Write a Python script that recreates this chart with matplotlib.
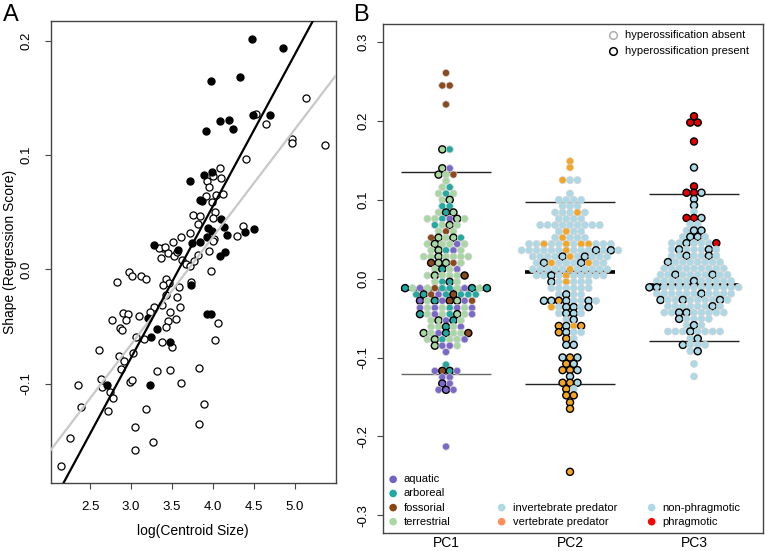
import numpy as np
import matplotlib.pyplot as plt

plt.rcParams['font.family'] = ['Liberation Sans', 'DejaVu Sans']

# ---- panel A data: log(centroid size) vs regression score
open_x = [5.138, 4.524, 4.654, 4.972, 4.967, 5.366, 4.407, 4.093, 4.102, 4.004,
          3.931, 3.955, 3.915, 4.037, 4.126, 3.988, 4.024, 3.760, 3.846, 4.004,
          3.817, 3.720, 4.366, 4.289, 4.016, 3.996, 3.606, 3.512, 3.390, 3.346,
          3.411, 3.362, 3.451, 3.524, 3.557, 3.618, 3.667, 3.724, 3.764, 3.955,
          3.813, 3.972, 2.976, 3.016, 3.122, 3.179, 2.825, 3.423, 3.467, 3.585,
          3.728, 3.390, 3.557, 3.431, 3.593, 3.382, 3.276, 3.228, 3.476, 2.907,
          2.967, 3.098, 2.764, 2.935, 3.447, 3.549, 3.423, 2.866, 2.886, 4.065,
          3.057, 3.159, 3.382, 3.504, 4.024, 2.614, 2.854, 2.919, 2.874, 3.024,
          3.313, 3.476, 3.829, 2.634, 2.642, 2.992, 3.016, 3.610, 2.350, 2.744,
          2.785, 2.390, 2.724, 3.183, 3.886, 3.045, 3.825, 3.272, 3.045, 2.252,
          2.142]
open_y = [0.150, 0.136, 0.127, 0.114, 0.111, 0.109, 0.097, 0.089, 0.080, 0.082,
          0.077, 0.072, 0.064, 0.065, 0.066, 0.059, 0.050, 0.048, 0.047, 0.045,
          0.040, 0.032, 0.038, 0.029, 0.027, 0.025, 0.028, 0.024, 0.019, 0.019,
          0.020, 0.010, 0.014, 0.012, 0.015, 0.008, 0.005, 0.003, 0.007, 0.016,
          0.013, -0.001, -0.002, -0.006, -0.006, -0.008, -0.011, -0.008, -0.012, -0.015,
          -0.011, -0.014, -0.024, -0.022, -0.033, -0.031, -0.033, -0.037, -0.037, -0.038,
          -0.039, -0.041, -0.044, -0.044, -0.045, -0.043, -0.050, -0.051, -0.053, -0.047,
          -0.059, -0.061, -0.063, -0.068, -0.062, -0.070, -0.076, -0.080, -0.087, -0.073,
          -0.089, -0.088, -0.086, -0.096, -0.103, -0.098, -0.097, -0.099, -0.101, -0.107,
          -0.112, -0.120, -0.124, -0.122, -0.118, -0.138, -0.135, -0.151, -0.158, -0.147,
          -0.172]
filled_x = [4.472, 4.858, 4.329, 3.972, 4.093, 4.203, 4.244, 3.919, 4.695, 4.492,
            3.715, 3.886, 3.988, 3.841, 3.866, 4.098, 3.939, 3.988, 4.138, 4.167,
            3.931, 4.508, 4.394, 3.748, 3.841, 3.280, 3.577, 4.085, 4.154, 3.732,
            3.923, 3.972, 3.211, 3.313, 3.240, 3.476, 2.703, 3.228]
filled_y = [0.202, 0.194, 0.168, 0.165, 0.130, 0.131, 0.123, 0.121, 0.135, 0.135,
            0.077, 0.083, 0.085, 0.061, 0.060, 0.044, 0.036, 0.034, 0.037, 0.030,
            0.028, 0.035, 0.033, 0.023, 0.024, 0.021, 0.017, 0.012, 0.015, -0.014,
            -0.039, -0.039, -0.042, -0.052, -0.059, -0.063, -0.101, -0.101]
# regression lines (intercept, slope)
fit_present = (-0.4755, 0.1327)
fit_absent = (-0.348, 0.0941)

# ---- panel B data: rows of the beeswarm (value, groups left to right)
# lower case = hyperossification absent, upper case = present
pc_labels = ['PC1', 'PC2', 'PC3']
pc1_rows = [(0.261, 'f'), (0.245, 'ff'), (0.221, 'f'), (0.164, 'Tr'), (0.140, 'Ta'),
            (0.132, 'Ttf'), (0.124, 't'), (0.116, 'tr'), (0.108, 'trt'), (0.100, 'tT'),
            (0.092, 'rr'), (0.084, 'tRT'), (0.076, 'ttraTt'), (0.068, 'rtTt'),
            (0.060, 'tft'), (0.052, 'fTtTr'), (0.044, 'tTttat'), (0.036, 'tTrat'),
            (0.028, 'ttTtttt'), (0.020, 'FTTft'), (0.012, 'tRta'), (0.004, 'tTtttF'),
            (-0.004, 'trRt'), (-0.012, 'RtatfrrtaRtR'), (-0.020, 'rRfarFrrr'),
            (-0.028, 'AtRaFTaf'), (-0.037, 'atatrata'), (-0.045, 'RtatrTta'),
            (-0.053, 'tTaRt'), (-0.061, 'ttRta'), (-0.069, 'TtaRttF'),
            (-0.077, 'tTrtta'), (-0.085, 'Taat'), (-0.093, 'a'), (-0.109, 'r'),
            (-0.117, 'aFRa'), (-0.125, 'aa'), (-0.133, 'Aa'), (-0.141, 'aAa'),
            (-0.213, 'a')]
pc2_rows = [(0.149, 'v'), (0.141, 'v'), (0.125, 'vii'), (0.108, 'i'), (0.100, 'iiii'),
            (0.092, 'iii'), (0.084, 'iiivi'), (0.076, 'iiii'), (0.068, 'iiiiiiiii'),
            (0.060, 'ivii'), (0.052, 'iviii'), (0.044, 'iiviivivviii'),
            (0.036, 'iiiiiiviiiIiIi'), (0.028, 'iiiiIviIiii'), (0.020, 'iIviiiIvii'),
            (0.012, 'iiiiiviiiii'), (0.004, 'iiIiviiiii'), (-0.004, 'Iiviii'),
            (-0.012, 'iiiiii'), (-0.020, 'iIii'), (-0.028, 'IIVIiiIi'),
            (-0.036, 'viIIiI'), (-0.044, 'iIIi'), (-0.052, 'iI'), (-0.060, 'VIvV'),
            (-0.068, 'VIii'), (-0.076, 'Vi'), (-0.084, 'II'), (-0.100, 'IVI'),
            (-0.108, 'VI'), (-0.116, 'VVI'), (-0.124, 'I'), (-0.132, 'VVI'),
            (-0.140, 'Vi'), (-0.148, 'VV'), (-0.157, 'V'), (-0.165, 'V'), (-0.245, 'V')]
pc3_rows = [(0.206, 'P'), (0.198, 'PP'), (0.174, 'P'), (0.141, 'N'), (0.117, 'P'),
            (0.109, 'PPN'), (0.101, 'N'), (0.093, 'N'), (0.085, 'n'), (0.077, 'PPN'),
            (0.069, 'nn'), (0.061, 'nNN'), (0.053, 'nNNn'), (0.045, 'nnNnnnP'),
            (0.037, 'nNnnnNn'), (0.029, 'nnNnnNn'), (0.021, 'Nnnnnnnn'),
            (0.013, 'nnnnnnnnn'), (0.005, 'nnNnnnnNnn'), (-0.003, 'nnnnnNnnnnn'),
            (-0.011, 'NNnnnnnnnnnnn'), (-0.019, 'nnnnnnNnnnn'), (-0.027, 'NnnNnnnnNn'),
            (-0.035, 'nnnnnnNn'), (-0.043, 'nnNNnnnnn'), (-0.051, 'Nnnnn'),
            (-0.059, 'nNn'), (-0.067, 'nnnNnnnn'), (-0.076, 'nN'), (-0.084, 'Nnnn'),
            (-0.092, 'nN'), (-0.108, 'n'), (-0.124, 'n')]
pc_upper = [0.135, 0.0976, 0.107]
pc_mid = [-0.0136, 0.0088, -0.0081]
pc_lower = [-0.121, -0.134, -0.0788]

group_colors = {'a': '#7b68c8', 'r': '#22aaa2', 'f': '#8b4a1e', 't': '#a9d7a3',
                'i': '#add8e6', 'v': '#f3a623', 'n': '#add8e6', 'p': '#e60000'}
legend_groups = [
    [('aquatic', '#7262c6'), ('arboreal', '#1faaa2'), ('fossorial', '#8b4513'),
     ('terrestrial', '#a6d89f')],
    [('invertebrate predator', '#add8e6'), ('vertebrate predator', '#ff8c5a')],
    [('non-phragmotic', '#add8e6'), ('phragmotic', '#ff0000')],
]

fig = plt.figure(figsize=(7.65, 5.51), dpi=100)
axA = fig.add_axes([0.0663, 0.1229, 0.3725, 0.8395])
axB = fig.add_axes([0.501, 0.0321, 0.496, 0.9243])

# ---------------- panel A
axA.scatter(open_x, open_y, s=26, facecolors='white', edgecolors='black', linewidths=0.9, zorder=2)
axA.scatter(filled_x, filled_y, s=26, facecolors='black', edgecolors='black', linewidths=0.9, zorder=2)
axA.axline((0, fit_absent[0]), slope=fit_absent[1], color='#c8c8c8', lw=1.6, zorder=3)
axA.axline((0, fit_present[0]), slope=fit_present[1], color='black', lw=1.6, zorder=3)
axA.set_xlim(2.02, 5.50)
axA.set_ylim(-0.187, 0.2176)
axA.set_xticks([2.5, 3.0, 3.5, 4.0, 4.5, 5.0])
axA.set_xticklabels(['2.5', '3.0', '3.5', '4.0', '4.5', '5.0'])
axA.set_yticks([-0.1, 0.0, 0.1, 0.2])
axA.set_yticklabels(['-0.1', '0.0', '0.1', '0.2'], rotation=90, va='center')
axA.tick_params(axis='x', length=4, width=0.8, color='#444444', pad=9, labelsize=9.5)
axA.tick_params(axis='y', length=4, width=0.8, color='#444444', pad=9, labelsize=9.5)
axA.set_xlabel('log(Centroid Size)', fontsize=10)
axA.set_ylabel('Shape (Regression Score)', fontsize=10)
axA.xaxis.set_label_coords(0.5, -0.088)
axA.yaxis.set_label_coords(-0.118, 0.5)

# ---------------- panel B
dx = 0.06
for k, rows in enumerate([pc1_rows, pc2_rows, pc3_rows]):
    pos = k + 1
    xs, ys, fc, ec = [], [], [], []
    for y, codes in rows:
        n = len(codes)
        for i, c in enumerate(codes):
            xs.append(pos + (i - (n - 1) / 2) * dx)
            ys.append(y)
            fc.append(group_colors[c.lower()])
            ec.append('black' if c.isupper() else '#d4d4d4')
    lw = [1.0 if e == 'black' else 0.5 for e in ec]
    axB.hlines(pc_mid[k], pos - 0.36, pos + 0.36, color='black', lw=2.6, zorder=1)
    axB.hlines(pc_upper[k], pos - 0.36, pos + 0.36, color='#222222', lw=1.0, zorder=1)
    axB.hlines(pc_lower[k], pos - 0.36, pos + 0.36,
               color='#666666' if k == 0 else '#222222', lw=1.0, zorder=1)
    axB.scatter(xs, ys, s=26, c=fc, edgecolors=ec, linewidths=lw, zorder=3)

axB.set_xlim(0.494, 3.554)
axB.set_ylim(-0.323, 0.323)
axB.set_xticks([1, 2, 3])
axB.set_xticklabels(pc_labels)
axB.set_yticks([-0.3, -0.2, -0.1, 0.0, 0.1, 0.2, 0.3])
axB.set_yticklabels(['-0.3', '-0.2', '-0.1', '0.0', '0.1', '0.2', '0.3'], rotation=90, va='center')
axB.tick_params(axis='x', length=0, pad=2, labelsize=10)
axB.tick_params(axis='y', length=4, width=0.8, color='#444444', pad=6, labelsize=9.5)

for ax in (axA, axB):
    for sp in ax.spines.values():
        sp.set_color('#444444')
        sp.set_linewidth(1.0)

# legend: hyperossification
for j, (lab, edge) in enumerate([('hyperossification absent', '#b0b0b0'),
                                 ('hyperossification present', 'black')]):
    yy = 0.978 - j * 0.030
    axB.scatter([0.606], [yy], s=30, facecolors='white', edgecolors=edge, linewidths=1.1,
                transform=axB.transAxes, clip_on=False, zorder=4)
    axB.text(0.637, yy, lab, transform=axB.transAxes, fontsize=8, va='center')

# legends: groups
leg_x = [(0.026, 0.053), (0.312, 0.341), (0.7074, 0.7364)]
for (mx, tx), items in zip(leg_x, legend_groups):
    for j, (lab, col) in enumerate(items[::-1]):
        yy = 0.0228 + j * 0.0277
        axB.scatter([mx], [yy], s=30, c=col, edgecolors='none',
                    transform=axB.transAxes, zorder=4)
        axB.text(tx, yy, lab, transform=axB.transAxes, fontsize=8, va='center')

fig.text(0.004, 0.992, 'A', fontsize=17, va='top', ha='left')
fig.text(0.462, 0.992, 'B', fontsize=17, va='top', ha='left')

fig.savefig('out.png', dpi=100)
